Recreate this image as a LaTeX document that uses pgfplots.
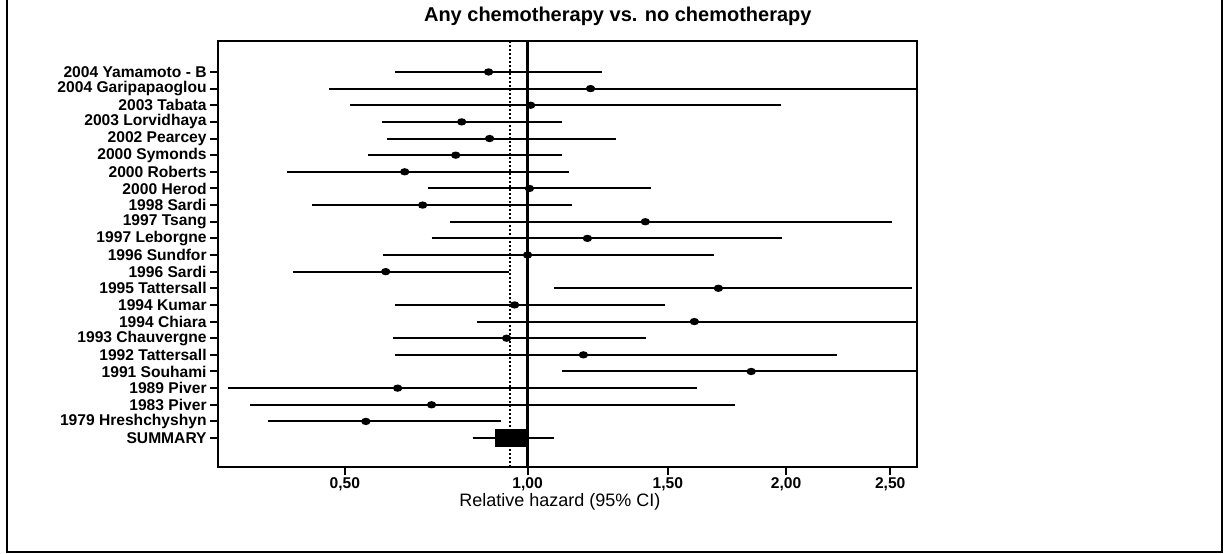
\documentclass[border=0pt]{standalone}
\usepackage{pgfplots}
\pgfplotsset{compat=1.18}
\usepackage{fontspec}
\setmainfont{Liberation Sans}

\begin{document}
\begin{tikzpicture}
\path[use as bounding box] (0,0) rectangle (612pt,276.5pt);
% page border (left, bottom, right)
\draw[line width=1pt] (3.5pt,276.5pt) -- (3.5pt,0.6pt) -- (610.8pt,0.6pt) -- (610.8pt,276.5pt);

\begin{axis}[
    at={(109pt,43pt)}, anchor=south west,
    scale only axis,
    width=349.5pt, height=213pt,
    % the reference axis is spaced like a square-root scale
    x coord trafo/.code={\pgfmathparse{sqrt(#1)}},
    x coord inv trafo/.code={\pgfmathparse{(#1)^2}},
    xmin=0.254, xmax=2.6375,
    y dir=reverse,
    ymin=-0.86, ymax=24.74,
    xtick={0.5,1,1.5,2,2.5},
    xticklabels={{0,50},{1,00},{1,50},{2,00},{2,50}},
    ytick={1,...,23},
    yticklabels={
        2004 Yamamoto - B, 2004 Garipapaoglou, 2003 Tabata, 2003 Lorvidhaya,
        2002 Pearcey, 2000 Symonds, 2000 Roberts, 2000 Herod, 1998 Sardi,
        1997 Tsang, 1997 Leborgne, 1996 Sundfor, 1996 Sardi, 1995 Tattersall,
        1994 Kumar, 1994 Chiara, 1993 Chauvergne, 1992 Tattersall,
        1991 Souhami, 1989 Piver, 1983 Piver, 1979 Hreshchyshyn, SUMMARY
    },
    xtick pos=bottom, ytick pos=left,
    tick align=outside,
    major tick length=4pt,
    tick style={line width=1pt, black},
    axis line style={line width=1pt},
    ticklabel style={font=\bfseries\fontsize{7.8}{9}\selectfont},
    yticklabel style={inner sep=1.5pt},
    xticklabel style={inner sep=1pt},
    title={Any chemotherapy vs. no chemotherapy},
    title style={font=\bfseries\fontsize{10}{12}\selectfont,
        at={(axis description cs:0.572,1.03)}, anchor=center},
    xlabel={Relative hazard (95\% CI)},
    xlabel style={font=\fontsize{9}{11}\selectfont,
        at={(axis description cs:0.489,-0.082)}, anchor=center},
    ci/.style={black, line width=1pt, mark=*, mark indices={2},
        mark size=1.3pt, mark options={xscale=1.4}},
]

% reference lines: no effect and pooled estimate
\addplot[black, line width=1.3pt] coordinates {(1,-0.86) (1,24.74)};
\addplot[black, line width=1.2pt, dash pattern=on 1pt off 1pt] coordinates {(0.945,-0.86) (0.945,24.74)};

% studies: (lower, estimate, upper)
\addplot[ci] coordinates {(0.620,1) (0.879,1) (1.254,1)};
\addplot[ci] coordinates {(0.465,2) (1.212,2) (3.000,2)};
\addplot[ci] coordinates {(0.512,3) (1.010,3) (1.978,3)};
\addplot[ci] coordinates {(0.587,4) (0.800,4) (1.115,4)};
\addplot[ci] coordinates {(0.600,5) (0.882,5) (1.305,5)};
\addplot[ci] coordinates {(0.554,6) (0.783,6) (1.115,6)};
\addplot[ci] coordinates {(0.378,7) (0.645,7) (1.136,7)};
\addplot[ci] coordinates {(0.706,8) (1.006,8) (1.436,8)};
\addplot[ci] coordinates {(0.428,9) (0.692,9) (1.146,9)};
\addplot[ci] coordinates {(0.766,10) (1.413,10) (2.509,10)};
\addplot[ci] coordinates {(0.716,11) (1.201,11) (1.980,11)};
\addplot[ci] coordinates {(0.590,12) (1.000,12) (1.688,12)};
\addplot[ci] coordinates {(0.389,13) (0.597,13) (0.940,13)};
\addplot[ci] coordinates {(1.085,14) (1.705,14) (2.611,14)};
\addplot[ci] coordinates {(0.620,15) (0.959,15) (1.490,15)};
\addplot[ci] coordinates {(0.844,16) (1.606,16) (3.000,16)};
\addplot[ci] coordinates {(0.615,17) (0.934,17) (1.417,17)};
\addplot[ci] coordinates {(0.620,18) (1.187,18) (2.238,18)};
\addplot[ci] coordinates {(1.115,19) (1.845,19) (3.000,19)};
\addplot[ci] coordinates {(0.270,20) (0.627,20) (1.618,20)};
\addplot[ci] coordinates {(0.308,21) (0.716,21) (1.776,21)};
\addplot[ci] coordinates {(0.341,22) (0.549,22) (0.916,22)};

% summary
\addplot[black, line width=1pt, mark=square*, mark indices={2},
    mark size=4pt, mark options={xscale=1.8}]
    coordinates {(0.832,23) (0.945,23) (1.085,23)};

\end{axis}
\end{tikzpicture}
\end{document}
